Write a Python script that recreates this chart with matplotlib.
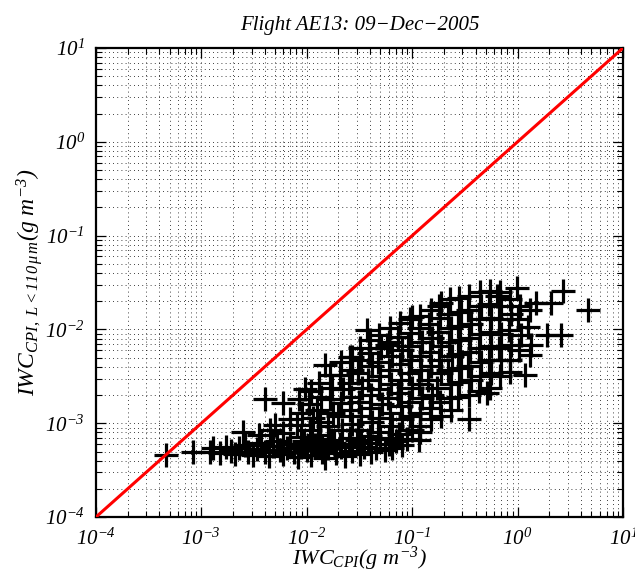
import matplotlib
matplotlib.use("Agg")
import matplotlib.pyplot as plt

# IWC values in g m^-3
# low plateau of small-ice IWC (~5e-4)
band_x = [0.0012, 0.0013, 0.0015, 0.0017, 0.0019, 0.0021, 0.0023, 0.0026, 0.0028, 0.0031,
          0.0034, 0.0037, 0.0040, 0.0044, 0.0048, 0.0052, 0.0056, 0.0060, 0.0065, 0.0070,
          0.0076, 0.0082, 0.0088, 0.0095, 0.010, 0.011, 0.012, 0.013, 0.014, 0.015,
          0.016, 0.018, 0.019, 0.021, 0.023, 0.025, 0.027, 0.030, 0.032, 0.035,
          0.038, 0.041, 0.045, 0.050, 0.055, 0.060, 0.065, 0.070, 0.080, 0.090]
band_y = [5.0e-4, 5.4e-4, 4.8e-4, 5.6e-4, 5.1e-4, 4.7e-4, 5.5e-4, 5.9e-4, 5.0e-4, 4.6e-4,
          5.3e-4, 6.2e-4, 5.0e-4, 4.5e-4, 5.7e-4, 6.5e-4, 5.2e-4, 4.7e-4, 5.5e-4, 6.0e-4,
          5.0e-4, 4.4e-4, 5.6e-4, 6.4e-4, 5.2e-4, 4.6e-4, 5.8e-4, 6.8e-4, 5.0e-4, 4.3e-4,
          5.4e-4, 6.2e-4, 4.8e-4, 5.6e-4, 4.5e-4, 6.0e-4, 5.1e-4, 6.6e-4, 4.7e-4, 5.6e-4,
          6.2e-4, 5.0e-4, 5.5e-4, 6.8e-4, 5.2e-4, 6.0e-4, 5.4e-4, 6.5e-4, 5.8e-4, 6.8e-4]

# main cloud
cloud_x = [0.0084, 0.0090, 0.0081, 0.0088,
           0.0110, 0.0105, 0.0116, 0.0108, 0.0113,
           0.0130, 0.0137, 0.0126, 0.0134, 0.0128, 0.0139,
           0.0165, 0.0172, 0.0168, 0.0177, 0.0160, 0.0170,
           0.021, 0.0205, 0.022, 0.0212, 0.020, 0.0218, 0.0208,
           0.026, 0.027, 0.025, 0.0265, 0.0255, 0.027, 0.026,
           0.032, 0.033, 0.031, 0.0335, 0.0315, 0.0325, 0.031, 0.033,
           0.040, 0.039, 0.042, 0.038, 0.041, 0.0395, 0.042, 0.040,
           0.049, 0.051, 0.047, 0.050, 0.048, 0.052, 0.049, 0.047,
           0.062, 0.060, 0.064, 0.061, 0.063, 0.059, 0.062, 0.065, 0.060,
           0.077, 0.074, 0.080, 0.076, 0.079, 0.073, 0.078, 0.081, 0.075,
           0.095, 0.098, 0.092, 0.097, 0.094, 0.099, 0.093, 0.096, 0.10,
           0.12, 0.115, 0.125, 0.118, 0.122, 0.116, 0.124, 0.119, 0.12,
           0.15, 0.145, 0.155, 0.148, 0.152, 0.143, 0.156, 0.149, 0.151,
           0.18, 0.185, 0.175, 0.19, 0.178, 0.186, 0.174, 0.182, 0.188,
           0.23, 0.22, 0.235, 0.225, 0.24, 0.22, 0.232, 0.228, 0.236,
           0.28, 0.29, 0.27, 0.285, 0.275, 0.29, 0.28, 0.27,
           0.35, 0.34, 0.36, 0.345, 0.355, 0.34, 0.36, 0.35,
           0.44, 0.45, 0.43, 0.445, 0.435, 0.45, 0.44, 0.43,
           0.55, 0.54, 0.56, 0.545, 0.555, 0.54, 0.56, 0.55,
           0.68, 0.70, 0.66, 0.69, 0.67, 0.70, 0.68,
           0.85, 0.87, 0.83, 0.86, 0.84, 0.85,
           1.05, 1.02, 1.08, 1.04,
           1.3, 1.27, 1.33]
cloud_y = [0.0018, 0.0013, 0.00096, 0.00071,
           0.0022, 0.0016, 0.00114, 0.00085, 0.00063,
           0.0027, 0.0019, 0.0014, 0.00103, 0.00075, 0.00057,
           0.0033, 0.0024, 0.0018, 0.00128, 0.00093, 0.00066,
           0.0045, 0.0033, 0.0023, 0.00164, 0.0012, 0.00085, 0.0006,
           0.0051, 0.0037, 0.0027, 0.0019, 0.0014, 0.00099, 0.0007,
           0.0063, 0.0047, 0.0034, 0.0024, 0.00168, 0.0012, 0.00085, 0.00062,
           0.0077, 0.0056, 0.0041, 0.0029, 0.0020, 0.00145, 0.00103, 0.00073,
           0.0087, 0.0063, 0.0045, 0.0032, 0.0023, 0.0016, 0.00114, 0.00081,
           0.0104, 0.0073, 0.0052, 0.0037, 0.0026, 0.00186, 0.0013, 0.00093, 0.0007,
           0.0117, 0.0083, 0.0060, 0.0043, 0.0029, 0.0021, 0.00153, 0.0011, 0.00077,
           0.013, 0.0092, 0.0067, 0.0047, 0.0034, 0.0024, 0.00168, 0.0012, 0.00085,
           0.014, 0.0104, 0.0073, 0.0052, 0.0037, 0.0026, 0.00186, 0.0013, 0.00093,
           0.016, 0.0114, 0.0081, 0.0057, 0.0041, 0.0029, 0.0020, 0.00145, 0.0011,
           0.018, 0.0132, 0.0094, 0.0067, 0.0047, 0.0034, 0.0024, 0.00168, 0.0012,
           0.021, 0.0146, 0.0104, 0.0073, 0.0052, 0.0037, 0.0026, 0.00186, 0.0014,
           0.0216, 0.0153, 0.0109, 0.0077, 0.0055, 0.0039, 0.00275, 0.0019,
           0.0227, 0.016, 0.0114, 0.0081, 0.0057, 0.0041, 0.0029, 0.0020,
           0.025, 0.0177, 0.013, 0.0089, 0.0063, 0.0045, 0.0032, 0.0022,
           0.026, 0.0187, 0.0132, 0.0094, 0.0067, 0.0047, 0.0034, 0.0024,
           0.025, 0.0177, 0.013, 0.0089, 0.0063, 0.0047, 0.0032,
           0.021, 0.0146, 0.0099, 0.0068, 0.0047, 0.0035,
           0.018, 0.013, 0.0087, 0.006,
           0.016, 0.0105, 0.0068]

# scattered points around the cloud
outer_x = [4.6e-4, 8.3e-4, 4.0e-3, 5.9e-3, 9.6e-3, 0.015, 0.027, 0.037, 0.10, 0.19,
           0.64, 0.99, 1.5, 2.1, 2.7, 4.7, 2.6, 1.9, 1.3, 1.17,
           0.51, 0.35, 0.12, 0.115, 0.005, 0.0069, 0.058, 0.0025, 0.0035, 0.0045, 0.006]
outer_y = [4.6e-4, 4.9e-4, 1.8e-3, 1.64e-3, 2.3e-3, 4.2e-3, 5.1e-3, 9.9e-3, 0.0135, 0.0192,
           0.023, 0.028, 0.019, 0.019, 0.026, 0.016, 0.0087, 0.0087, 0.0053, 0.0033,
           0.0021, 0.0011, 8.1e-4, 6.6e-4, 9.6e-4, 1.1e-3, 6.8e-3, 8.0e-4, 7.5e-4, 8.5e-4, 7.8e-4]

one_to_one = [1e-4, 10]

plt.rcParams.update({
    "font.family": "Liberation Serif",
    "font.style": "italic",
    "mathtext.fontset": "custom",
    "mathtext.rm": "Liberation Serif:italic",
    "mathtext.it": "Liberation Serif:italic",
})

fig = plt.figure(figsize=(6.35, 5.72), dpi=100)
ax = fig.add_axes([0.151, 0.096, 0.830, 0.820])

ax.set_xscale("log")
ax.set_yscale("log")

xs = band_x + cloud_x + outer_x
ys = band_y + cloud_y + outer_y
ax.plot(xs, ys, "+", color="k", ms=17, mew=2.3, linestyle="none", zorder=2)
ax.plot(one_to_one, one_to_one, color="red", lw=2.2, zorder=3)

ax.set_xlim(1e-4, 10)
ax.set_ylim(1e-4, 10)

ax.grid(True, which="both", color="k", linestyle=(0, (1, 4)), linewidth=0.6)
ax.set_axisbelow(True)
ax.tick_params(which="both", direction="in", top=True, right=True, labelsize=15)
ax.tick_params(which="major", length=7, width=0.9, pad=8)
ax.tick_params(which="minor", length=4, width=0.8)
for s in ax.spines.values():
    s.set_linewidth(1.6)

ax.set_title("Flight AE13: 09\u2212Dec\u22122005", fontsize=15, pad=13)
ax.set_xlabel(r"$IWC_{CPI}(g\ m^{-3})$", fontsize=16, labelpad=-3)
ax.set_ylabel(r"$IWC_{CPI,\ L<110\,\mu\,m}(g\ m^{-3})$", fontsize=17, labelpad=0)

fig.savefig("out.png", dpi=100)
